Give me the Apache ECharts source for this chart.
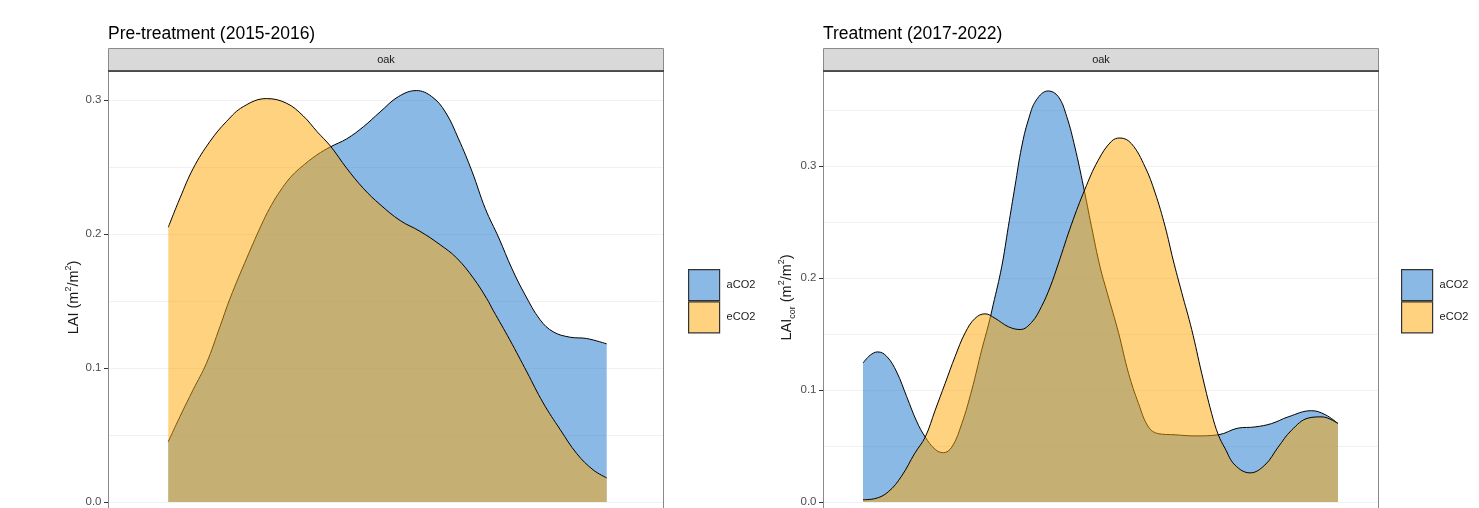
<!DOCTYPE html>
<html><head><meta charset="utf-8">
<script src="https://cdn.jsdelivr.net/npm/echarts@6/dist/echarts.min.js"></script>
<style>html,body{margin:0;padding:0;background:#fff}#c{width:1479px;height:508px}</style>
</head><body><div id="c"></div>
<script>
// ---------- data ----------
const seriesNames = ['aCO2', 'eCO2'];
const panelTitles = ['Pre-treatment (2015-2016)', 'Treatment (2017-2022)'];
const stripLabels = ['oak', 'oak'];
const yTickValues = [0, 0.1, 0.2, 0.3];

// Pre-treatment, aCO2
const preAX = [0, 2.7, 5.7, 8.7, 11.8, 14.1, 17.9, 21.7, 23.6, 25.5, 27.8, 30.0, 33.9, 37.0, 40.7, 44.5, 48.3, 52.5, 56.6, 60.1, 63.2, 66.2, 69.3, 72.3, 75.4, 78.4, 81.4, 84.8, 87.8, 91.6, 95.4, 100];
const preAY = [0.045, 0.064, 0.084, 0.1035, 0.131, 0.152, 0.182, 0.210, 0.222, 0.232, 0.242, 0.249, 0.259, 0.265, 0.271, 0.280, 0.291, 0.3025, 0.307, 0.3025, 0.291, 0.271, 0.2465, 0.219, 0.197, 0.174, 0.1545, 0.136, 0.127, 0.123, 0.122, 0.118];
// Pre-treatment, eCO2
const preEX = [0, 2.7, 5.7, 9.5, 13.3, 17.1, 22.4, 27.0, 30.8, 33.9, 37.0, 40.7, 44.5, 48.3, 52.9, 57.4, 62.0, 65.8, 69.6, 72.6, 74.1, 77.9, 81.8, 85.5, 89.4, 93.2, 96.9, 100];
const preEY = [0.205, 0.227, 0.249, 0.269, 0.284, 0.295, 0.301, 0.2975, 0.288, 0.2765, 0.2655, 0.249, 0.234, 0.222, 0.210, 0.202, 0.192, 0.182, 0.167, 0.152, 0.143, 0.121, 0.097, 0.074, 0.054, 0.036, 0.024, 0.018];
// Treatment, aCO2
const trtAX = [0, 1.5, 3.1, 5.0, 7.1, 9.2, 11.3, 13.1, 15.2, 16.9, 18.7, 20.8, 22.9, 25.0, 26.4, 27.4, 29.2, 30.6, 32.0, 33.4, 34.8, 36.5, 39.0, 41.1, 42.9, 44.6, 46.4, 48.1, 49.9, 51.4, 53.8, 55.9, 58.0, 60.1, 62.2, 65.7, 69.9, 74.8, 79.0, 82.5, 86.0, 89.5, 94.4, 97.3, 100];
const trtAY = [0.124, 0.131, 0.134, 0.130, 0.116, 0.094, 0.072, 0.058, 0.047, 0.044, 0.049, 0.070, 0.100, 0.136, 0.158, 0.176, 0.210, 0.246, 0.282, 0.317, 0.341, 0.359, 0.367, 0.362, 0.344, 0.317, 0.282, 0.246, 0.210, 0.187, 0.151, 0.115, 0.088, 0.067, 0.061, 0.060, 0.059, 0.060, 0.066, 0.067, 0.070, 0.076, 0.0815, 0.078, 0.070];
// Treatment, eCO2
const trtEX = [0, 2.5, 5.3, 8.1, 10.9, 13.1, 15.2, 17.3, 19.4, 21.5, 23.6, 25.7, 27.8, 30.6, 33.1, 35.5, 37.6, 39.4, 41.1, 43.9, 46.7, 49.5, 52.3, 54.1, 56.5, 59.4, 61.5, 63.6, 65.3, 67.1, 69.2, 71.3, 73.4, 74.8, 76.2, 78.3, 81.5, 84.6, 87.4, 90.2, 93.8, 96.6, 100];
const trtEY = [0.002, 0.003, 0.009, 0.023, 0.0435, 0.058, 0.082, 0.106, 0.130, 0.151, 0.164, 0.168, 0.164, 0.1565, 0.154, 0.1604, 0.1747, 0.192, 0.2125, 0.248, 0.279, 0.305, 0.322, 0.325, 0.320, 0.299, 0.276, 0.246, 0.216, 0.187, 0.154, 0.115, 0.079, 0.060, 0.048, 0.033, 0.026, 0.033, 0.049, 0.064, 0.075, 0.076, 0.070];

// ---------- styling ----------
const FONT = '"Liberation Sans", Arial, Helvetica, sans-serif';
const fillA = 'rgba(24,116,205,0.5)';
const fillE = 'rgba(255,165,0,0.5)';
const zip = (xs, ys) => xs.map((x, i) => [x, ys[i]]);

const panels = [
  { left: 108, width: 556, xMin: -13.75, xMax: 113.07, yMax: 0.3216,
    yName: '{n|LAI (m}{s|2}{n|/m}{s|2}{n|)}', nameGap: 23,
    legendLeft: 688, series: [zip(preAX, preAY), zip(preEX, preEY)] },
  { left: 823, width: 556, xMin: -8.42, xMax: 108.63, yMax: 0.3848,
    yName: '{n|LAI}{b|cor}{n| (m}{s|2}{n|/m}{s|2}{n|)}', nameGap: 26,
    legendLeft: 1401, series: [zip(trtAX, trtAY), zip(trtEX, trtEY)] }
];
const TOP = 71, HEIGHT = 431;

const option = {
  animation: false,
  backgroundColor: '#fff',
  textStyle: { fontFamily: FONT },
  title: panels.map((p, i) => ({
    text: panelTitles[i], left: p.left, top: 25, padding: 0,
    textStyle: { fontSize: 17.5, fontWeight: 'normal', color: '#000', fontFamily: FONT }
  })),
  grid: panels.map(p => ({ left: p.left, top: TOP, width: p.width, height: HEIGHT, containLabel: false })),
  xAxis: panels.map((p, i) => ({ gridIndex: i, type: 'value', min: p.xMin, max: p.xMax, show: false })),
  yAxis: panels.flatMap((p, i) => [
    {
      gridIndex: i, type: 'value', min: 0, max: p.yMax, interval: 0.1, position: 'left',
      axisLine: { show: false, onZero: false },
      axisTick: { show: true, length: 4, customValues: yTickValues, lineStyle: { color: '#333', width: 1 } },
      axisLabel: {
        margin: 6.5, color: '#4d4d4d', fontSize: 11.5, fontFamily: FONT,
        formatter: v => (Math.abs(v * 10 - Math.round(v * 10)) < 1e-6 ? v.toFixed(1) : '')
      },
      splitLine: { show: true, lineStyle: { color: '#e6e6e6', width: 1 } },
      name: p.yName, nameLocation: 'middle', nameRotate: 90, nameGap: p.nameGap,
      nameTextStyle: {
        padding: [0, 22, 0, 0],
        rich: {
          n: { fontSize: 14.5, color: '#1a1a1a', fontFamily: FONT, lineHeight: 20 },
          s: { fontSize: 9, color: '#1a1a1a', fontFamily: FONT, lineHeight: 10, verticalAlign: 'top' },
          b: { fontSize: 9, color: '#1a1a1a', fontFamily: FONT, lineHeight: 12, verticalAlign: 'bottom' }
        }
      }
    },
    {
      gridIndex: i, type: 'value', min: 0, max: p.yMax, interval: 0.05, position: 'left',
      axisLine: { show: false, onZero: false }, axisTick: { show: false }, axisLabel: { show: false },
      splitLine: { show: true, lineStyle: { color: '#f1f1f1', width: 1 } }
    }
  ]),
  legend: panels.map(p => ({
    left: p.legendLeft, top: 269, orient: 'vertical', itemGap: 0, itemWidth: 31, itemHeight: 31,
    padding: 0, selectedMode: false,
    textStyle: { fontSize: 11, color: '#1a1a1a', fontFamily: FONT, padding: [0, 0, 0, 2] },
    data: [
      { name: seriesNames[0], icon: 'rect', itemStyle: { color: fillA, borderColor: '#333', borderWidth: 1.2 } },
      { name: seriesNames[1], icon: 'rect', itemStyle: { color: fillE, borderColor: '#333', borderWidth: 1.2 } }
    ]
  })),
  series: panels.flatMap((p, i) => p.series.map((d, k) => ({
    type: 'line', name: seriesNames[k], xAxisIndex: i, yAxisIndex: i * 2,
    data: d, smooth: 0.4, symbol: 'none', showSymbol: false,
    lineStyle: { color: '#000', width: 1 },
    itemStyle: { color: k === 0 ? fillA : fillE },
    areaStyle: { color: k === 0 ? fillA : fillE, opacity: 1 },
    z: 2 + k
  }))),
  graphic: panels.flatMap((p, i) => [
    { type: 'rect', z: 10, shape: { x: p.left + 0.5, y: 48.5, width: p.width - 1, height: 22.5 },
      style: { fill: '#d9d9d9', stroke: '#8a8a8a', lineWidth: 1 } },
    { type: 'line', z: 11, shape: { x1: p.left, y1: 71, x2: p.left + p.width, y2: 71 },
      style: { stroke: '#333', lineWidth: 1.3 } },
    { type: 'text', z: 12, x: p.left + p.width / 2, y: 60,
      style: { text: stripLabels[i], textAlign: 'center', textVerticalAlign: 'middle',
        fontSize: 11, fill: '#1a1a1a', fontFamily: FONT } },
    { type: 'rect', z: 10, shape: { x: p.left + 0.5, y: 71.5, width: p.width - 1, height: 460 },
      style: { fill: 'none', stroke: '#8a8a8a', lineWidth: 1 } }
  ])
};

const chart = echarts.init(document.getElementById('c'), null, { renderer: 'canvas' });
chart.setOption(option);
</script>
</body></html>
